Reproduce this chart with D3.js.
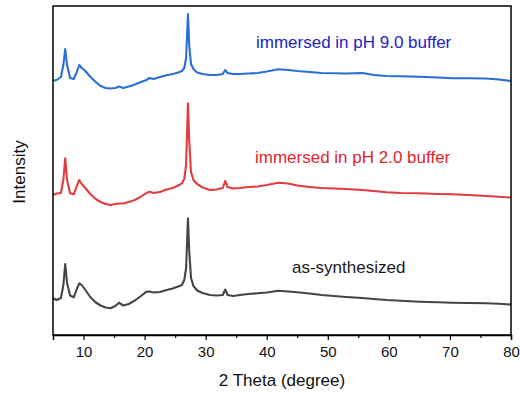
<!DOCTYPE html>
<html>
<head>
<meta charset="utf-8">
<script src="https://cdn.jsdelivr.net/npm/d3@7"></script>
<style>
  body { margin: 0; background: #fff; }
  svg { display: block; font-family: Arial, "Liberation Sans", sans-serif; }
</style>
</head>
<body>
<div id="grafico"></div>
<script>
// Dados (2θ e intensidade relativa, já com deslocamento vertical)
const doisTheta = [5, 5.6, 6.3, 6.7, 7.0, 7.3, 7.8, 8.4, 8.9, 9.3, 9.7, 10.3, 11.1, 12.0, 12.8, 13.6, 14.4,
  15.2, 15.8, 16.5, 17.4, 18.4, 19.4, 20.3, 20.8, 21.5, 22.5, 23.6, 24.6, 25.5, 26.1, 26.5, 26.8, 27.1,
  27.3, 27.6, 28.0, 28.6, 29.5, 30.7, 31.8, 32.8, 33.2, 33.6, 34.5, 35.6, 37.0, 38.5, 40.0, 41.9, 43.5,
  45.0, 47.0, 49.0, 51.0, 53.0, 55.7, 57.5, 59.6, 62.0, 65.0, 68.0, 70.4, 73.0, 75.9, 78.0, 80];

const ph9 = [254.3, 255, 258, 270, 286, 270, 257, 256, 263, 270, 267, 264, 258.3, 253, 249, 247, 246.5,
  247, 248.5, 247, 248.5, 250.5, 253, 255, 257, 256, 258, 259.7, 261, 262.5, 264, 267, 277, 321,
  290, 271, 266, 262.5, 261, 260, 260, 261, 265, 262, 261, 261, 261.5, 262, 263.5, 265.7, 265,
  264, 263, 262, 261.7, 261.5, 262, 260, 259, 258.7, 258.3, 257.5, 256.7, 256.7, 256.5, 255.5, 254];

const ph2 = [140, 141.5, 142, 155, 176.7, 155, 141.7, 140.7, 149, 155, 151, 147, 141, 136, 133, 131, 130,
  131, 131.5, 131.5, 133, 135, 138.3, 142, 143.3, 142, 143, 145.5, 147, 149.5, 151.7, 156, 170, 231.7,
  195, 163, 155, 151, 147.5, 145, 145.5, 147, 154, 148, 146.5, 147, 148, 148.5, 150, 152.3, 151.5,
  149.5, 148, 147, 146.5, 146, 145, 144, 142.7, 142, 141.7, 141, 140.7, 140, 139, 138.3, 137.5];

const sintetizado = [36.7, 35, 37, 50, 71, 52, 39.5, 37.7, 46, 51.7, 50, 45, 38, 32.5, 29.5, 27.5, 26.7,
  29, 32.3, 29.5, 31, 34.5, 39, 43.3, 43.5, 42.5, 43, 45, 46.5, 48.5, 50, 55, 67, 116.7,
  85, 57, 49, 44.5, 42, 40, 39.5, 40, 45.5, 40, 39, 40, 41, 41.7, 42.5, 44.3, 43.5,
  42.7, 41.5, 40, 39, 38, 37, 36, 35, 34.2, 33.3, 32.7, 32.3, 32, 31.7, 31.2, 30.5];

const series = ['pH 9.0', 'pH 2.0', 'as-synthesized'];
const rotulos = ['immersed in pH 9.0 buffer', 'immersed in pH 2.0 buffer', 'as-synthesized'];
const ticksX = [10, 20, 30, 40, 50, 60, 70, 80];
const ticksMenores = [15, 25, 35, 45, 55, 65, 75];

const Grafico = (() => {
    const largura = 520;
    const altura = 397;
    const margin = { top: 6, right: 9, bottom: 62, left: 53 };

    const cores = ['#2a6fd6', '#e23c40', '#454545'];
    const coresTexto = ['#2323c4', '#e0262b', '#1a1a1a'];
    const posRotulo = [[256, 48], [255, 163], [292, 273]];

    const desenhar = () => {
        const valores = [ph9, ph2, sintetizado];

        const svg = d3.select('#grafico')
            .append('svg')
            .attr('width', largura)
            .attr('height', altura);

        // Escalas
        const x = d3.scaleLinear()
            .domain([5, 80])
            .range([margin.left, largura - margin.right]);

        const y = d3.scaleLinear()
            .domain([0, 329])
            .range([altura - margin.bottom, margin.top]);

        const linha = d3.line()
            .x(d => x(d[0]))
            .y(d => y(d[1]));

        // Curvas
        valores.forEach((v, i) => {
            const pontos = doisTheta.map((t, j) => [t, v[j]]);
            svg.append('path')
                .datum(pontos)
                .attr('class', 'serie')
                .attr('data-serie', series[i])
                .attr('fill', 'none')
                .attr('stroke', cores[i])
                .attr('stroke-width', 2.1)
                .attr('stroke-linejoin', 'round')
                .attr('d', linha);
        });

        // Rótulos das curvas
        rotulos.forEach((r, i) => {
            svg.append('text')
                .attr('x', posRotulo[i][0])
                .attr('y', posRotulo[i][1])
                .style('font-size', '17px')
                .style('fill', coresTexto[i])
                .text(r);
        });

        // Moldura
        svg.append('rect')
            .attr('x', margin.left)
            .attr('y', margin.top)
            .attr('width', largura - margin.left - margin.right)
            .attr('height', altura - margin.top - margin.bottom)
            .attr('fill', 'none')
            .attr('stroke', '#000')
            .attr('stroke-width', 1.5);

        // Eixo X (ticks menores e maiores)
        const eixoMenor = svg.append('g')
            .attr('transform', `translate(0, ${altura - margin.bottom})`)
            .call(d3.axisBottom(x).tickValues(ticksMenores).tickSize(3).tickFormat(''));
        eixoMenor.select('.domain').remove();
        eixoMenor.selectAll('line').attr('stroke-width', 1.2);

        const eixoX = svg.append('g')
            .attr('transform', `translate(0, ${altura - margin.bottom})`)
            .call(d3.axisBottom(x).tickValues(ticksX).tickSize(5).tickPadding(6));
        eixoX.select('.domain').attr('stroke-width', 1.5);
        eixoX.selectAll('line').attr('stroke-width', 1.2);
        eixoX.selectAll('text')
            .style('font-size', '15px')
            .style('font-family', 'Arial, "Liberation Sans", sans-serif')
            .style('fill', '#111');

        // Títulos dos eixos
        svg.append('text')
            .attr('x', (margin.left + largura - margin.right) / 2)
            .attr('y', 386)
            .attr('text-anchor', 'middle')
            .style('font-size', '17px')
            .style('fill', '#111')
            .text('2 Theta (degree)');

        svg.append('text')
            .attr('transform', 'translate(25, 172) rotate(-90)')
            .attr('text-anchor', 'middle')
            .style('font-size', '17px')
            .style('fill', '#111')
            .text('Intensity');
    };

    return { desenhar };
})();

Grafico.desenhar();
</script>
</body>
</html>
